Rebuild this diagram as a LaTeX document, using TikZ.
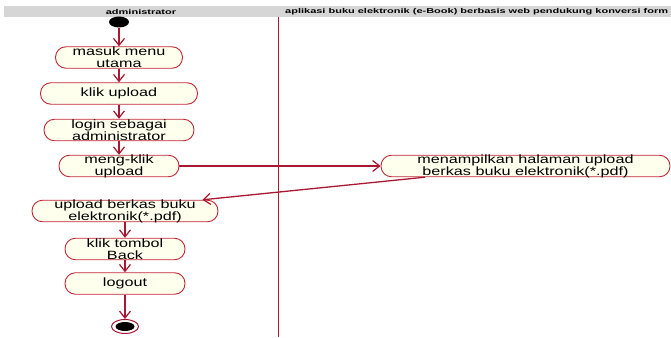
\documentclass[tikz,border=0pt]{standalone}
\usepackage{fontspec}
\setmainfont{Liberation Sans}
\newfontfamily\nodefont{Liberation Sans}[FakeStretch=1.35]
\newfontfamily\headfont{Liberation Sans}[FakeStretch=1.57]
\usetikzlibrary{arrows.meta,shapes.geometric}
\definecolor{lanered}{RGB}{168,24,48}
\definecolor{nodeborder}{RGB}{192,40,56}
\definecolor{nodefill}{RGB}{255,255,238}
\definecolor{headgray}{RGB}{214,214,214}
\begin{document}
\begin{tikzpicture}[x=1pt,y=-1pt,
  act/.style={draw=nodeborder, fill=nodefill, line width=0.9pt, rounded corners=10.5pt,
    minimum height=21.5pt, inner xsep=0pt, inner ysep=-3pt, align=center,
    font=\nodefont\fontsize{12}{12}\selectfont},
  flow/.style={draw=lanered, line width=1.3pt,
    -{Straight Barb[length=7pt,width=11pt,line width=1.2pt]}},
  headtext/.style={font=\headfont\bfseries\fontsize{7}{8}\selectfont, inner sep=0pt}]
\useasboundingbox (0,0) rectangle (671,337);
% header
\fill[headgray] (4,6) rectangle (671,17);
\node[headtext] (h1) at (141,11.5) {administrator};
\node[headtext, anchor=west] (h2) at (285,11.5) {aplikasi buku elektronik (e-Book) berbasis web pendukung konversi form};
% lane divider
\draw[lanered, line width=0.8pt] (278,17) -- (278,337);
% nodes
\node[fill=black, ellipse, minimum width=20pt, minimum height=11pt, inner sep=0pt] (start) at (119,22) {};
\node[act, minimum width=127pt] (masuk) at (119,57.5) {masuk menu\\utama};
\node[act, minimum width=157pt] (klik) at (119,93.5) {\raisebox{1.5pt}{klik upload}};
\node[act, minimum width=150pt] (login) at (119,130) {login sebagai\\administrator};
\node[act, minimum width=120pt] (meng) at (119,166) {meng-klik\\upload};
\node[act, minimum width=289pt] (tampil) at (525.5,166) {menampilkan halaman upload\\berkas buku elektronik(*.pdf)};
\node[act, minimum width=186pt] (upl) at (125,211) {upload berkas buku\\elektronik(*.pdf)};
\node[act, minimum width=120pt] (back) at (125,249) {klik tombol\\Back};
\node[act, minimum width=120pt] (logout) at (125,283.5) {\raisebox{3pt}{logout}};
\node[draw=lanered, fill=white, ellipse, line width=1pt, minimum width=27pt, minimum height=14pt, inner sep=0pt] (end) at (125,326.5) {};
\node[fill=black, ellipse, minimum width=19pt, minimum height=9pt, inner sep=0pt] (endin) at (end) {};
% connectors
\draw[flow] (start) -- (masuk);
\draw[flow] (masuk) -- (klik);
\draw[flow] (klik) -- (login);
\draw[flow] (login) -- (meng);
\draw[flow] (meng) -- (tampil);
\draw[flow] ([xshift=-100.5pt]tampil.south) -- ([xshift=-16pt]upl.north east);
\draw[flow] (upl) -- (back);
\draw[flow] (back) -- (logout);
\draw[flow] (logout) -- (end);
\end{tikzpicture}
\end{document}
